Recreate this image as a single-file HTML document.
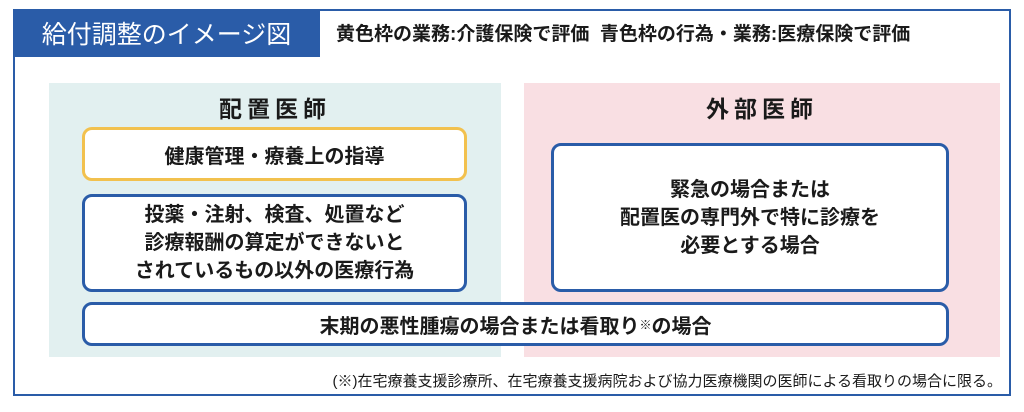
<!DOCTYPE html>
<html><head><meta charset="utf-8"><style>
body{margin:0;width:1024px;height:412px;background:#fff;position:relative;overflow:hidden;font-family:"Liberation Sans","Noto Sans CJK JP",sans-serif;color:#1a1a1a}
div{position:absolute;box-sizing:border-box}
.c{display:flex;align-items:center;justify-content:center;text-align:center;font-weight:bold}
</style></head><body>
<div style="left:13px;top:9px;width:998px;height:387px;border:2px solid #2a5ca8;border-top-width:0"></div>
<div style="left:13px;top:9px;width:998px;height:2px;background:#2a5ca8"></div>
<div class="c" style="left:13px;top:9px;width:307px;height:48px;background:#2a5ca8;color:#fff;font-weight:normal;font-size:25px">給付調整のイメージ図</div>
<div style="left:336px;top:19px;font-size:19px;font-weight:bold;white-space:nowrap">黄色枠の業務:介護保険で評価&nbsp;&nbsp;青色枠の行為・業務:医療保険で評価</div>
<div style="left:49px;top:83px;width:452px;height:274px;background:#e2f0f0"></div>
<div style="left:524px;top:83px;width:476px;height:274px;background:#f9dfe3"></div>
<div class="c" style="left:49px;top:90px;width:452px;height:34px;font-size:23px;letter-spacing:5px">配置医師</div>
<div class="c" style="left:524px;top:90px;width:476px;height:34px;font-size:23px;letter-spacing:5px">外部医師</div>
<div class="c" style="left:82px;top:127px;width:385px;height:54px;background:#fff;border:3px solid #f2c14e;border-radius:10px;font-size:20px">健康管理・療養上の指導</div>
<div class="c" style="left:82px;top:194px;width:385px;height:98px;background:#fff;border:3px solid #2a5ca8;border-radius:10px;font-size:20px;line-height:28px">投薬・注射、検査、処置など<br>診療報酬の算定ができないと<br>されているもの以外の医療行為</div>
<div class="c" style="left:551px;top:143px;width:398px;height:149px;background:#fff;border:3px solid #2a5ca8;border-radius:10px;font-size:20px;line-height:28px">緊急の場合または<br>配置医の専門外で特に診療を<br>必要とする場合</div>
<div class="c" style="left:82px;top:302px;width:867px;height:44px;background:#fff;border:3px solid #2a5ca8;border-radius:10px;font-size:20px">末期の悪性腫瘍の場合または看取り<span style="font-size:12px;vertical-align:6px">※</span>の場合</div>
<div style="right:22px;top:370px;font-size:15px;white-space:nowrap">(※)在宅療養支援診療所、在宅療養支援病院および協力医療機関の医師による看取りの場合に限る。</div>
</body></html>
